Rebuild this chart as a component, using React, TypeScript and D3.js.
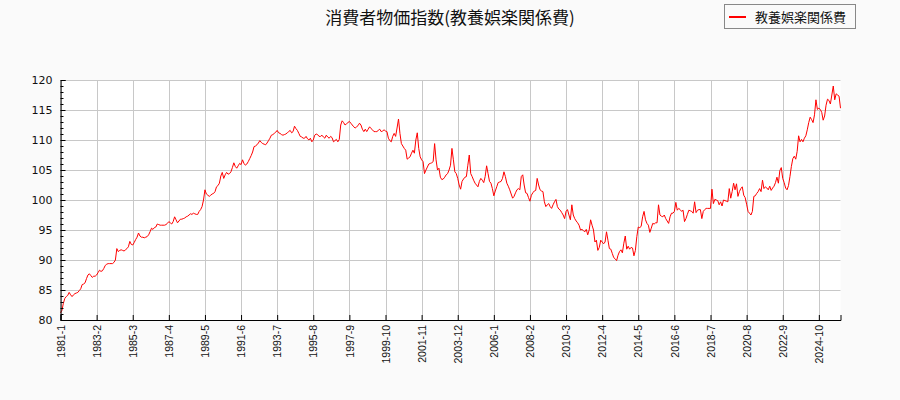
import { useRef, useEffect } from 'react';
import * as d3 from 'd3';

const title = '消費者物価指数(教養娯楽関係費)';
const seriesName = '教養娯楽関係費';
const startYear = 1981;
const tickStep = 25; // months between x labels
const yTicks = [80, 85, 90, 95, 100, 105, 110, 115, 120];

// monthly index, 1981-1 .. 2026-1
const values: number[] = [
    81.2, 81.6, 82.8, 83.6, 83.9, 84.1, 84.6, 84.2, 83.9, 84.2, 84.4, 84.5, // 1981
    84.6, 84.9, 85.2, 85.9, 86.0, 86.2, 86.9, 87.5, 87.7, 87.4, 87.1, 87.3, // 1982
    87.3, 87.5, 87.9, 88.3, 88.1, 88.2, 88.6, 89.1, 89.3, 89.4, 89.4, 89.4, // 1983
    89.4, 89.6, 90.0, 91.9, 91.4, 91.6, 91.7, 91.6, 91.5, 91.7, 91.9, 92.2, // 1984
    93.1, 92.6, 92.5, 92.9, 93.4, 93.8, 94.5, 94.0, 93.8, 93.8, 93.7, 93.8, // 1985
    93.9, 94.2, 94.7, 95.3, 95.1, 95.4, 95.5, 96.0, 95.9, 95.8, 95.8, 95.8, // 1986
    95.8, 95.9, 96.1, 96.4, 96.2, 96.0, 96.4, 97.2, 96.7, 96.2, 96.5, 96.8, // 1987
    96.8, 96.9, 97.0, 97.2, 97.3, 97.5, 97.7, 97.6, 97.8, 97.7, 97.6, 97.6, // 1988
    98.1, 98.4, 98.9, 100.0, 101.7, 101.0, 100.8, 100.6, 100.8, 101.0, 101.1, 101.4, // 1989
    102.2, 102.4, 102.8, 104.0, 104.6, 103.6, 104.2, 104.6, 104.3, 104.4, 104.7, 105.4, // 1990
    106.2, 105.6, 105.3, 105.7, 106.1, 105.9, 106.7, 106.1, 105.8, 106.0, 106.4, 106.9, // 1991
    107.4, 108.0, 108.9, 109.0, 109.2, 109.5, 109.9, 109.6, 109.4, 109.3, 109.2, 109.5, // 1992
    109.9, 110.3, 110.8, 110.9, 111.1, 111.3, 111.6, 111.2, 111.1, 110.9, 110.8, 110.9, // 1993
    111.0, 111.2, 111.4, 111.6, 111.2, 111.4, 112.3, 111.9, 111.6, 111.1, 110.6, 110.5, // 1994
    110.3, 110.3, 110.6, 110.2, 110.0, 110.3, 109.7, 110.0, 110.8, 111.0, 110.9, 110.6, // 1995
    110.6, 110.8, 110.5, 110.3, 110.8, 110.5, 110.3, 110.6, 110.4, 109.7, 109.9, 110.1, // 1996
    109.7, 110.1, 112.5, 113.2, 112.9, 112.5, 112.7, 112.9, 113.1, 112.8, 112.5, 112.2, // 1997
    112.0, 112.2, 112.4, 112.8, 112.5, 111.8, 111.4, 111.8, 111.4, 111.8, 112.2, 111.9, // 1998
    111.7, 111.4, 111.4, 111.4, 111.6, 111.8, 111.4, 111.5, 111.7, 111.5, 111.4, 110.3, // 1999
    109.9, 109.7, 110.6, 111.1, 110.6, 112.0, 113.5, 111.1, 109.4, 109.0, 108.6, 108.3, // 2000
    106.8, 107.0, 107.2, 107.8, 108.3, 107.8, 110.0, 111.2, 108.6, 107.2, 106.7, 106.4, // 2001
    104.4, 105.0, 105.5, 106.0, 106.1, 106.2, 106.4, 109.4, 106.7, 105.0, 105.3, 103.8, // 2002
    103.4, 103.5, 103.8, 104.2, 104.4, 105.0, 105.8, 108.6, 106.7, 104.7, 104.4, 103.6, // 2003
    102.5, 101.8, 103.1, 103.5, 103.8, 103.9, 105.8, 107.5, 104.4, 103.9, 103.3, 102.8, // 2004
    102.5, 102.2, 103.1, 103.6, 103.3, 102.9, 103.9, 105.7, 104.4, 103.1, 102.8, 101.9, // 2005
    100.7, 101.5, 102.2, 102.9, 103.0, 103.1, 103.6, 104.7, 103.9, 102.8, 102.3, 101.7, // 2006
    101.0, 100.3, 100.6, 101.2, 101.7, 101.9, 101.7, 103.9, 104.2, 102.5, 101.2, 101.1, // 2007
    100.4, 99.8, 100.8, 101.2, 101.5, 101.6, 103.6, 102.5, 101.7, 101.5, 101.4, 99.7, // 2008
    98.9, 99.2, 99.4, 98.9, 98.6, 99.2, 99.7, 100.1, 98.9, 98.5, 98.3, 97.9, // 2009
    97.5, 96.9, 98.1, 98.4, 97.5, 96.7, 99.2, 97.5, 96.9, 96.5, 96.2, 95.8, // 2010
    95.0, 95.1, 94.9, 94.7, 95.1, 94.2, 95.0, 96.7, 95.8, 95.0, 93.0, 93.3, // 2011
    91.6, 92.1, 93.3, 93.0, 92.7, 93.0, 94.7, 93.3, 91.9, 91.8, 91.1, 90.4, // 2012
    90.2, 89.9, 90.8, 91.4, 91.7, 91.2, 92.8, 94.0, 91.8, 92.3, 91.8, 92.1, // 2013
    92.0, 90.7, 91.6, 93.9, 95.5, 95.4, 95.6, 97.2, 98.1, 96.7, 96.1, 95.8, // 2014
    94.6, 95.3, 96.1, 96.0, 96.2, 96.2, 99.2, 97.5, 97.3, 97.2, 97.5, 96.9, // 2015
    96.5, 96.1, 97.2, 97.8, 97.8, 98.1, 99.6, 98.3, 98.6, 98.4, 98.1, 98.3, // 2016
    96.4, 96.9, 97.6, 98.3, 98.2, 98.1, 97.8, 99.7, 97.9, 98.3, 98.4, 98.4, // 2017
    96.9, 98.1, 98.4, 98.6, 98.6, 98.6, 98.6, 101.8, 99.4, 100.1, 100.0, 99.9, // 2018
    99.2, 99.7, 99.0, 100.0, 99.9, 99.8, 99.7, 101.9, 100.3, 101.4, 102.8, 101.7, // 2019
    102.7, 100.6, 101.4, 101.9, 102.2, 100.8, 100.4, 99.3, 98.1, 97.8, 97.5, 98.1, // 2020
    100.6, 100.7, 101.1, 101.4, 101.9, 101.4, 103.3, 101.9, 102.2, 102.0, 101.7, 102.3, // 2021
    101.6, 102.0, 102.3, 102.9, 103.8, 102.8, 104.9, 105.4, 103.6, 102.9, 102.0, 101.7, // 2022
    102.4, 103.9, 105.6, 106.9, 107.3, 106.8, 108.1, 110.7, 109.7, 110.1, 109.7, 110.3, // 2023
    110.7, 111.7, 112.9, 113.8, 113.4, 112.9, 114.2, 116.7, 115.1, 115.3, 115.1, 114.6, // 2024
    113.3, 114.0, 115.8, 116.8, 116.6, 116.0, 117.5, 119.0, 116.7, 117.7, 117.5, 117.3, // 2025
    115.3, // 2026
];

const monthLabel = (i: number) => `${startYear + Math.floor(i / 12)}-${(i % 12) + 1}`;

export default function App() {
    const svgRef = useRef<SVGSVGElement | null>(null);
    const w = 900;
    const h = 400;
    const left = 60.5, right = 840.5, top = 80, bottom = 320;

    useEffect(() => {
        document.body.style.margin = '0';
        if (!svgRef.current) return;

        const svg = d3.select(svgRef.current);
        svg.selectAll('*').remove();

        svg.append('rect').attr('width', w).attr('height', h).attr('fill', '#fafafa');
        svg.append('rect')
            .attr('x', left).attr('y', top)
            .attr('width', right - left).attr('height', bottom - top)
            .attr('fill', '#ffffff');

        const x = d3.scaleLinear().domain([0, values.length - 1]).range([left, right]);
        const y = d3.scaleLinear().domain([80, 120]).range([bottom, top]);

        const xTicks = d3.range(0, values.length, tickStep);

        // grid
        const grid = svg.append('g').attr('stroke', '#c8c8c8').attr('stroke-width', 1);
        yTicks.forEach(t => {
            grid.append('line')
                .attr('x1', left).attr('x2', right)
                .attr('y1', Math.round(y(t)) + 0.5).attr('y2', Math.round(y(t)) + 0.5);
        });
        xTicks.forEach(t => {
            grid.append('line')
                .attr('x1', Math.round(x(t)) + 0.5).attr('x2', Math.round(x(t)) + 0.5)
                .attr('y1', top).attr('y2', bottom);
        });

        // data line
        const line = d3.line<number>()
            .x((_, i) => x(i))
            .y(d => y(d));
        svg.append('path')
            .datum(values)
            .attr('fill', 'none')
            .attr('stroke', '#ff0000')
            .attr('stroke-width', 1)
            .attr('d', line);

        // axes
        const yAxis = d3.axisLeft(y).tickValues(yTicks).tickSize(-5).tickPadding(8);
        const gy = svg.append('g')
            .attr('transform', `translate(${left},0)`)
            .call(yAxis);
        gy.select('.domain').attr('stroke', '#000');
        gy.selectAll('text')
            .attr('font-family', 'DejaVu Sans')
            .attr('font-size', 11)
            .attr('fill', '#111');

        // minor ticks on y
        const minor = d3.range(80, 121, 1).filter(v => v % 5 !== 0);
        svg.append('g')
            .selectAll('line')
            .data(minor)
            .join('line')
            .attr('x1', left).attr('x2', left + 3)
            .attr('y1', d => Math.round(y(d)) + 0.5).attr('y2', d => Math.round(y(d)) + 0.5)
            .attr('stroke', '#000');

        const xAxis = d3.axisBottom(x).tickValues(xTicks).tickSize(-5).tickPadding(4)
            .tickFormat(d => monthLabel(+d));
        const gx = svg.append('g')
            .attr('transform', `translate(0,${bottom})`)
            .call(xAxis);
        gx.select('.domain').attr('stroke', '#000');
        gx.selectAll('text')
            .attr('font-family', 'Liberation Sans')
            .attr('font-size', 10.5)
            .attr('fill', '#111')
            .attr('transform', 'rotate(-90)')
            .attr('text-anchor', 'end')
            .attr('dy', '0.35em')
            .attr('x', -5)
            .attr('y', 0);

        // title
        svg.append('text')
            .attr('x', 450).attr('y', 24)
            .attr('text-anchor', 'middle')
            .attr('font-family', 'Noto Sans CJK JP')
            .attr('font-size', 17)
            .attr('fill', '#111')
            .text(title);

        // legend
        const lg = svg.append('g');
        lg.append('rect')
            .attr('x', 724.5).attr('y', 4.5)
            .attr('width', 131).attr('height', 24)
            .attr('fill', '#fafafa')
            .attr('stroke', '#888');
        lg.append('line')
            .attr('x1', 729).attr('x2', 746)
            .attr('y1', 17).attr('y2', 17)
            .attr('stroke', '#ff0000').attr('stroke-width', 2);
        lg.append('text')
            .attr('x', 755).attr('y', 21.5)
            .attr('font-family', 'Noto Sans CJK JP')
            .attr('font-size', 13)
            .attr('fill', '#111')
            .text(seriesName);
    }, []);

    return <svg ref={svgRef} width={w} height={h} style={{ display: 'block' }}></svg>;
}
